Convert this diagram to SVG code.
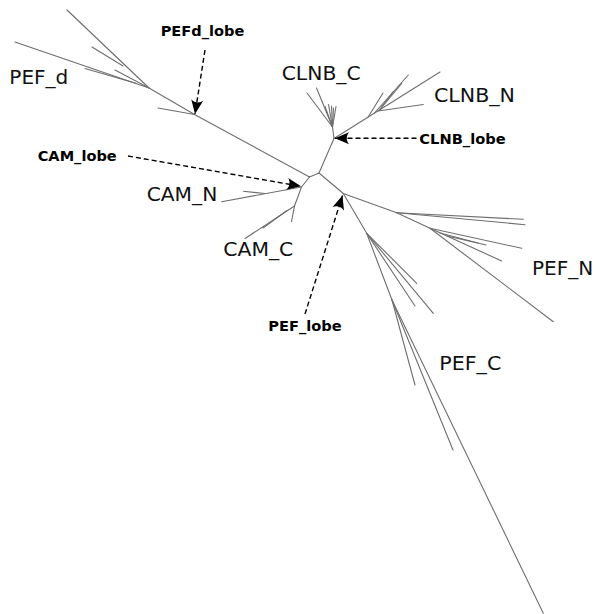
<svg xmlns="http://www.w3.org/2000/svg" width="596" height="614" viewBox="0 0 596 614">
  <style>
    .br { stroke: #6e6e6e; stroke-width: 1.1; fill: none; stroke-linecap: round; }
    .lbl { font-family: "DejaVu Sans", sans-serif; font-size: 20px; fill: #111; }
    .blbl { font-family: "DejaVu Sans", sans-serif; font-size: 14px; font-weight: bold; fill: #000; }
    .dash { stroke: #000; stroke-width: 1.4; fill: none; stroke-dasharray: 5 3; marker-end: url(#head); }
  </style>
  <defs>
    <marker id="head" markerUnits="userSpaceOnUse" viewBox="-15 -8 17 16" refX="0" refY="0" markerWidth="17" markerHeight="16" orient="auto" overflow="visible">
      <path d="M0,0 L-14,-6 C-11,-2.2 -11,2.2 -14,6 Z" fill="#000"/>
    </marker>
  </defs>
  <rect width="596" height="614" fill="#fff"/>

  <g id="connectors">
    <!-- central internal branches -->
    <line class="br" x1="309.5" y1="177" x2="319" y2="173"/>
    <!-- PEF_d clade -->
    <line class="br" x1="309.5" y1="177" x2="194.5" y2="114.5"/>
    <line class="br" x1="194.5" y1="114.5" x2="158" y2="108"/>
    <line class="br" x1="194.5" y1="114.5" x2="149" y2="88"/>
    <line class="br" x1="149" y1="88" x2="67" y2="10"/>
    <line class="br" x1="123" y1="66" x2="92" y2="47"/>
    <line class="br" x1="149" y1="88" x2="15" y2="42"/>
    <line class="br" x1="85" y1="68.5" x2="135" y2="83"/>
    <line class="br" x1="149" y1="88" x2="115" y2="70"/>
    <!-- CAM clade -->
    <line class="br" x1="309.5" y1="177" x2="301.5" y2="187"/>
    <line class="br" x1="301.5" y1="187" x2="221.7" y2="201.7"/>
    <line class="br" x1="243.3" y1="191.3" x2="265" y2="193.5"/>
    <line class="br" x1="301.5" y1="187" x2="294.5" y2="206"/>
    <line class="br" x1="294.5" y1="206" x2="245" y2="238.5"/>
    <line class="br" x1="294.5" y1="206" x2="291.5" y2="221.5"/>
    <line class="br" x1="287" y1="210.5" x2="263" y2="228"/>
    <!-- CLNB clade -->
    <line class="br" x1="319" y1="173" x2="334" y2="138.5"/>
    <line class="br" x1="334" y1="138.5" x2="332.5" y2="127"/>
    <line class="br" x1="332.5" y1="127" x2="307" y2="93"/>
    <line class="br" x1="332.5" y1="127" x2="316.5" y2="88"/>
    <line class="br" x1="332.5" y1="127" x2="325" y2="106.5"/>
    <line class="br" x1="332.5" y1="127" x2="328.5" y2="104.5"/>
    <line class="br" x1="332.5" y1="127" x2="331.5" y2="106"/>
    <line class="br" x1="332.5" y1="127" x2="333.5" y2="108"/>
    <line class="br" x1="332.5" y1="127" x2="336" y2="106.5"/>
    <line class="br" x1="334" y1="138.5" x2="440" y2="72"/>
    <line class="br" x1="368" y1="117.2" x2="383" y2="93"/>
    <line class="br" x1="374" y1="113.5" x2="408.3" y2="75"/>
    <line class="br" x1="378" y1="111" x2="423.3" y2="104.5"/>
    <line class="br" x1="379" y1="110.5" x2="393.3" y2="91.7"/>
    <line class="br" x1="380" y1="109.5" x2="401.7" y2="83.3"/>
    <!-- PEF_N clade -->
    <line class="br" x1="319" y1="173" x2="343.3" y2="193.5"/>
    <line class="br" x1="343.3" y1="193.5" x2="396.7" y2="212.7"/>
    <line class="br" x1="396.7" y1="212.7" x2="523.3" y2="219.3"/>
    <line class="br" x1="396.7" y1="212.7" x2="525" y2="224.7"/>
    <line class="br" x1="396.7" y1="212.7" x2="430" y2="228.3"/>
    <line class="br" x1="430" y1="228.3" x2="553.3" y2="321.7"/>
    <line class="br" x1="430" y1="228.3" x2="521.7" y2="248.3"/>
    <line class="br" x1="430" y1="228.3" x2="501.7" y2="261"/>
    <line class="br" x1="440" y1="233" x2="478" y2="243"/>
    <line class="br" x1="447" y1="236" x2="486" y2="245"/>
    <!-- PEF_C clade -->
    <line class="br" x1="343.3" y1="193.5" x2="366.7" y2="233.3"/>
    <line class="br" x1="366.7" y1="233.3" x2="416.7" y2="283.3"/>
    <line class="br" x1="366.7" y1="233.3" x2="415" y2="306"/>
    <line class="br" x1="366.7" y1="233.3" x2="433.3" y2="313.3"/>
    <line class="br" x1="366.7" y1="233.3" x2="392" y2="300"/>
    <line class="br" x1="392" y1="300" x2="415" y2="385"/>
    <line class="br" x1="392" y1="300" x2="453" y2="450"/>
    <line class="br" x1="392" y1="300" x2="543.3" y2="613.3"/>

    <!-- lobe arrows -->
    <line class="dash" x1="205" y1="50" x2="195" y2="114"/>
    <line class="dash" x1="128" y1="156" x2="301" y2="186.3"/>
    <line class="dash" x1="416.5" y1="138.3" x2="335" y2="138.3"/>
    <line class="dash" x1="305" y1="314" x2="342.5" y2="195.5"/>
  </g>

  <g id="PEF_d"><text class="lbl" x="9.3" y="84" textLength="59" lengthAdjust="spacingAndGlyphs">PEF_d</text></g>
  <g id="CAM_N"><text class="lbl" x="146.7" y="201" textLength="70.6" lengthAdjust="spacingAndGlyphs">CAM_N</text></g>
  <g id="CAM_C"><text class="lbl" x="223.3" y="255.7" textLength="70" lengthAdjust="spacingAndGlyphs">CAM_C</text></g>
  <g id="CLNB_C"><text class="lbl" x="281.7" y="80" textLength="79" lengthAdjust="spacingAndGlyphs">CLNB_C</text></g>
  <g id="CLNB_N"><text class="lbl" x="434" y="102.3" textLength="81" lengthAdjust="spacingAndGlyphs">CLNB_N</text></g>
  <g id="PEF_N"><text class="lbl" x="532" y="275" textLength="61.3" lengthAdjust="spacingAndGlyphs">PEF_N</text></g>
  <g id="PEF_C"><text class="lbl" x="439.3" y="369.5" textLength="62" lengthAdjust="spacingAndGlyphs">PEF_C</text></g>

  <g id="PEFd_lobe"><text class="blbl" x="160.7" y="35.5" textLength="83.6" lengthAdjust="spacingAndGlyphs">PEFd_lobe</text></g>
  <g id="CAM_lobe"><text class="blbl" x="37.7" y="160.5" textLength="79" lengthAdjust="spacingAndGlyphs">CAM_lobe</text></g>
  <g id="CLNB_lobe"><text class="blbl" x="419.3" y="143.5" textLength="86.4" lengthAdjust="spacingAndGlyphs">CLNB_lobe</text></g>
  <g id="PEF_lobe"><text class="blbl" x="268.3" y="330.5" textLength="73.4" lengthAdjust="spacingAndGlyphs">PEF_lobe</text></g>
</svg>
